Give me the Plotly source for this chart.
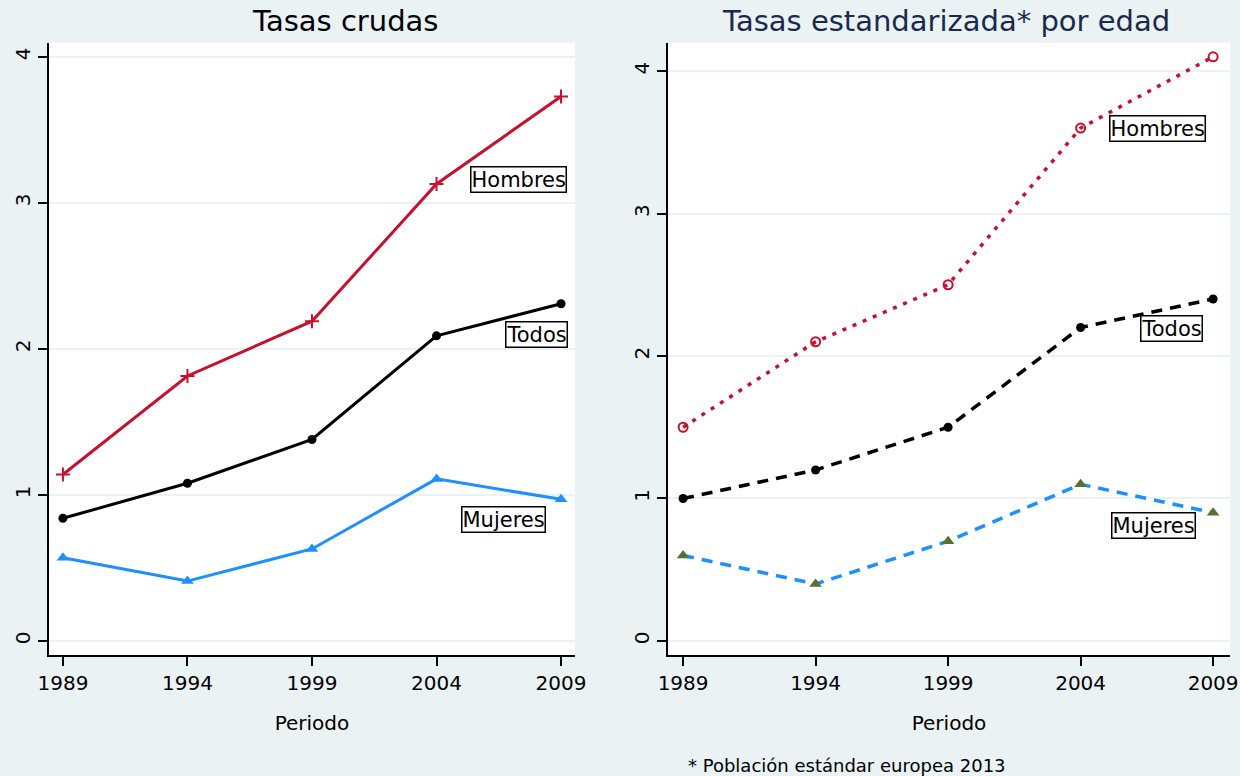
import plotly.graph_objects as go

# datos
periodos = [1989, 1994, 1999, 2004, 2009]

crudas_hombres = [1.14, 1.815, 2.19, 3.13, 3.73]
crudas_todos = [0.84, 1.08, 1.38, 2.09, 2.31]
crudas_mujeres = [0.57, 0.41, 0.63, 1.11, 0.97]

std_hombres = [1.5, 2.1, 2.5, 3.6, 4.1]
std_todos = [1.0, 1.2, 1.5, 2.2, 2.4]
std_mujeres = [0.6, 0.4, 0.7, 1.1, 0.9]

y_ticks = [0, 1, 2, 3, 4]

ROJO = '#c8102e'
AZUL = '#1e8fff'
VERDE = '#55702f'
FONDO = '#eaf2f3'
FUENTE = 'DejaVu Sans, Arial, sans-serif'

fig = go.Figure()

# 1. Tasas crudas
fig.add_trace(go.Scatter(
    x=periodos, y=crudas_hombres, mode='lines+markers', name='Hombres',
    line=dict(color=ROJO, width=3),
    marker=dict(symbol='cross-thin', size=10, line=dict(color=ROJO, width=2)),
    xaxis='x', yaxis='y',
))
fig.add_trace(go.Scatter(
    x=periodos, y=crudas_todos, mode='lines+markers', name='Todos',
    line=dict(color='black', width=3),
    marker=dict(symbol='circle', size=9, color='black'),
    xaxis='x', yaxis='y',
))
fig.add_trace(go.Scatter(
    x=periodos, y=crudas_mujeres, mode='lines+markers', name='Mujeres',
    line=dict(color=AZUL, width=3),
    marker=dict(symbol='triangle-up', size=11, color=AZUL),
    xaxis='x', yaxis='y',
))

# 2. Tasas estandarizadas
fig.add_trace(go.Scatter(
    x=periodos, y=std_hombres, mode='lines+markers', name='Hombres',
    line=dict(color=ROJO, width=3.5, dash='4px,7px'),
    marker=dict(symbol='circle-open', size=9, color=ROJO, line=dict(width=2)),
    xaxis='x2', yaxis='y2',
))
fig.add_trace(go.Scatter(
    x=periodos, y=std_todos, mode='lines+markers', name='Todos',
    line=dict(color='black', width=3.5, dash='11px,8px'),
    marker=dict(symbol='circle', size=9, color='black'),
    xaxis='x2', yaxis='y2',
))
fig.add_trace(go.Scatter(
    x=periodos, y=std_mujeres, mode='lines+markers', name='Mujeres',
    line=dict(color=AZUL, width=3.5, dash='11px,8px'),
    marker=dict(symbol='triangle-up', size=11, color=VERDE),
    xaxis='x2', yaxis='y2',
))

eje_x = dict(
    tickmode='array', tickvals=periodos, ticktext=[str(p) for p in periodos],
    ticks='outside', ticklen=9, tickwidth=1.5, tickcolor='black',
    showline=True, linecolor='black', linewidth=1.5,
    showgrid=False, zeroline=False, automargin=False,
    tickfont=dict(size=20, color='black'),
    title=dict(text='Periodo', font=dict(size=20, color='black'), standoff=22),
)
eje_y = dict(
    tickmode='array', tickvals=y_ticks, ticktext=[str(t) for t in y_ticks],
    ticks='outside', ticklen=9, tickwidth=1.5, tickcolor='black',
    tickangle=-90, automargin=False,
    showline=True, linecolor='black', linewidth=1.5,
    showgrid=True, gridcolor=FONDO, gridwidth=1.5, zeroline=False,
    tickfont=dict(size=20, color='black'),
)

fig.update_layout(
    width=1240, height=776,
    paper_bgcolor=FONDO, plot_bgcolor='white',
    font=dict(family=FUENTE, color='black'),
    showlegend=False,
    margin=dict(l=0, r=0, t=0, b=0),
    xaxis=dict(eje_x, domain=[0.0395, 0.4637], range=[1988.44, 2009.56], anchor='y'),
    yaxis=dict(eje_y, domain=[0.156, 0.945], range=[-0.096, 4.098], anchor='x'),
    xaxis2=dict(eje_x, domain=[0.5387, 0.992], range=[1988.43, 2009.64], anchor='y2'),
    yaxis2=dict(eje_y, domain=[0.156, 0.945], range=[-0.098, 4.199], anchor='x2'),
)

# titulos
fig.add_annotation(text='Tasas crudas', xref='paper', yref='paper',
                   x=345 / 1240, y=1 - 21 / 776, xanchor='center', yanchor='middle',
                   showarrow=False, font=dict(size=29, color='black'))
fig.add_annotation(text='Tasas estandarizada* por edad', xref='paper', yref='paper',
                   x=946 / 1240, y=1 - 21 / 776, xanchor='center', yanchor='middle',
                   showarrow=False, font=dict(size=29, color='#1a2a4e'))
fig.add_annotation(text='* Población estándar europea 2013', xref='paper', yref='paper',
                   x=847 / 1240, y=1 - 765 / 776, xanchor='center', yanchor='middle',
                   showarrow=False, font=dict(size=18, color='black'))

# etiquetas de series
etiquetas = [
    ('x', 'y', 2007.3, 3.16, 'Hombres'),
    ('x', 'y', 2008.0, 2.10, 'Todos'),
    ('x', 'y', 2006.7, 0.83, 'Mujeres'),
    ('x2', 'y2', 2006.92, 3.60, 'Hombres'),
    ('x2', 'y2', 2007.42, 2.19, 'Todos'),
    ('x2', 'y2', 2006.74, 0.81, 'Mujeres'),
]
for xr, yr, xv, yv, txt in etiquetas:
    fig.add_annotation(text=txt, xref=xr, yref=yr, x=xv, y=yv, showarrow=False,
                       xanchor='center', yanchor='middle',
                       font=dict(size=21, color='black'),
                       bordercolor='black', borderwidth=1.5, borderpad=0,
                       bgcolor='white')

fig.write_html(
    "out.html",
    config={'displayModeBar': False},
    post_script="document.body.style.margin='0';document.body.style.overflow='hidden';",
)
